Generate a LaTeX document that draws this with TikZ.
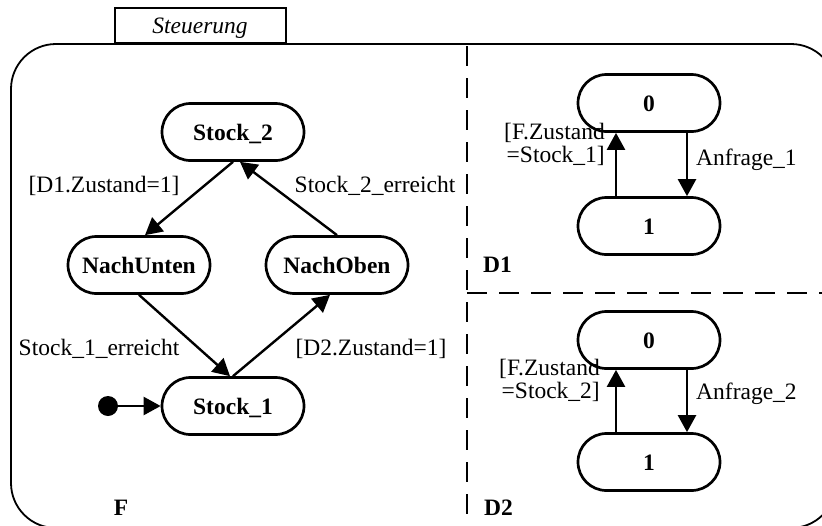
\documentclass[tikz,border=0pt]{standalone}
\usepackage{fontspec}
\setmainfont{Liberation Serif}
\usetikzlibrary{arrows.meta}
\begin{document}
\begin{tikzpicture}[x=1pt,y=-1pt,
  state/.style={draw, line width=2.7pt, rounded corners=28.5pt, minimum width=142pt,
    minimum height=57pt, inner sep=0pt, text height=16pt, text depth=0pt,
    font=\fontsize{23.5}{26}\selectfont\bfseries},
  lbl/.style={font=\fontsize{23.5}{22.5}\selectfont, inner sep=0pt},
  blbl/.style={font=\fontsize{23.5}{26}\selectfont\bfseries, inner sep=0pt},
  conn/.style={line width=2.4pt, -{Triangle[length=17pt,width=18pt]}},
  sep/.style={line width=1.5pt, dash pattern=on 20pt off 12pt}]
\useasboundingbox (0,0) rectangle (822,525);
\begin{scope}
  \clip (0,0) rectangle (822,525);
  \draw[line width=1.8pt, rounded corners=45pt] (11,44) rectangle (836,528);
\end{scope}
\node[draw, line width=1.8pt, minimum width=171pt, minimum height=35pt, inner sep=0pt,
  anchor=south west] (tab) at (114,44) {};
\node[lbl, anchor=base, font=\fontsize{23.5}{26}\selectfont\itshape] (tabtxt) at (200,33) {Steuerung};
% separators
\coordinate (v1) at (467,46);
\coordinate (v2) at (467,525);
\coordinate (h1) at (467,293);
\coordinate (h2) at (822,293);
\draw[sep] (v1) -- (v2);
\draw[sep] (h1) -- (h2);
% F region
\node[state] (s2) at (233,132) {Stock\_2};
\node[state] (nu) at (139,265) {NachUnten};
\node[state] (no) at (337,265) {NachOben};
\node[state] (s1) at (233,406) {Stock\_1};
\node[circle, fill, minimum size=20pt, inner sep=0pt] (init) at (108,406) {};
\draw[conn] (init) -- (s1);
\draw[conn] (s2.south) -- ([xshift=6pt]nu.north);
\draw[conn] (no.north) -- ([xshift=7pt]s2.south);
\draw[conn] (nu.south) -- ([xshift=-3pt]s1.north);
\draw[conn] (s1.north) -- ([xshift=-7pt]no.south);
\node[lbl, anchor=base] (l1) at (104,192) {[D1.Zustand=1]};
\node[lbl, anchor=base] (l2) at (375,192) {Stock\_2\_erreicht};
\node[lbl, anchor=base] (l3) at (99,355) {Stock\_1\_erreicht};
\node[lbl, anchor=base] (l4) at (371,355) {[D2.Zustand=1]};
\node[blbl, anchor=base] (F) at (121,515) {F};
% D1 region
\node[state] (a0) at (649,103) {0};
\node[state] (a1) at (649,226) {1};
\draw[conn] ([xshift=-33pt]a1.north) -- ([xshift=-33pt]a0.south);
\draw[conn] ([xshift=38pt]a0.south) -- ([xshift=38pt]a1.north);
\node[lbl, align=right, anchor=base east] (la) at (605,162) {[F.Zustand\\=Stock\_1]};
\node[lbl, anchor=base west] (lb) at (696,165) {Anfrage\_1};
\node[blbl, anchor=base west] (D1) at (483,272) {D1};
% D2 region
\node[state] (b0) at (649,340) {0};
\node[state] (b1) at (649,462) {1};
\draw[conn] ([xshift=-33pt]b1.north) -- ([xshift=-33pt]b0.south);
\draw[conn] ([xshift=38pt]b0.south) -- ([xshift=38pt]b1.north);
\node[lbl, align=right, anchor=base east] (lc) at (600,398) {[F.Zustand\\=Stock\_2]};
\node[lbl, anchor=base west] (ld) at (696,399) {Anfrage\_2};
\node[blbl, anchor=base west] (D2) at (484,515) {D2};
\end{tikzpicture}
\end{document}
